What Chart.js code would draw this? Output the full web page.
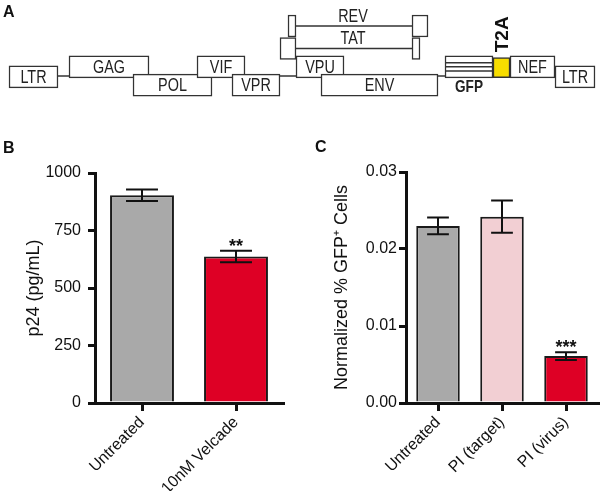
<!DOCTYPE html>
<html>
<head>
<meta charset="utf-8">
<script src="https://cdn.jsdelivr.net/npm/chart.js@4.4.0/dist/chart.umd.min.js"></script>
<style>
  body { margin: 0; background: #fff; }
  #fig { position: relative; width: 600px; height: 491px; overflow: hidden; font-family: 'Liberation Sans', Arial, sans-serif; }
  .panel { position: absolute; }
  .tag { position: absolute; font-weight: bold; font-size: 16px; line-height: 16px; color: #111; }
</style>
</head>
<body>
<div id="fig">
  <div class="panel" style="left:0;top:0;width:600px;height:112px"><canvas id="genome"></canvas></div>
  <div class="panel" style="left:0;top:140px;width:295px;height:351px"><canvas id="p24"></canvas></div>
  <div class="panel" style="left:300px;top:140px;width:300px;height:351px"><canvas id="gfp"></canvas></div>
  <div class="tag" style="left:3px;top:4px">A</div>
  <div class="tag" style="left:3px;top:140px">B</div>
  <div class="tag" style="left:315px;top:139px">C</div>
</div>
<script>
// ---- panel A: provirus map (schematic units along the genome, row levels) ----
const geneNames = ['LTR', 'GAG', 'POL', 'VIF', 'VPR', 'VPU', 'ENV', 'NEF', 'LTR'];
const geneStart = [9, 69, 133, 197, 232, 296, 321, 510, 555];
const geneEnd   = [58, 149, 212, 245, 280, 344, 438, 555, 595];
const geneRow   = [81, 69, 91, 69, 91, 69, 91, 69, 81];

const exonNames = ['TAT', 'TAT', 'REV', 'REV'];
const exonStart = [280, 412, 288, 412];
const exonEnd   = [296, 420, 296, 428];
const exonRow   = [47, 47, 20, 20];

const gfpStart = 445, gfpEnd = 493, gfpRow = 69;
const t2aStart = 493, t2aEnd = 510, t2aRow = 70;
const gfpStripes = [64, 69, 74];

const backbone = [[58, 80], [555, 80]];
const spliceLinks = [[[296, 47], [412, 47]], [[296, 20], [412, 20]]];

// ---- panel B ----
const p24Labels = ['Untreated', '10nM Velcade'];
const p24Values = [903, 637];
const p24Errors = [25, 25];
const p24Stars  = ['', '**'];
const p24Ticks  = [0, 250, 500, 750, 1000];

// ---- panel C ----
const gfpLabels = ['Untreated', 'PI (target)', 'PI (virus)'];
const gfpValues = [0.0230, 0.0242, 0.0061];
const gfpErrors = [0.0011, 0.0021, 0.0005];
const gfpStars  = ['', '', '***'];

const GRAY = '#a9a9a9', RED = '#de0025', PINK = '#f2cfd3';
const FONT = "'Liberation Sans', Arial, sans-serif";

Chart.defaults.font.family = FONT;
Chart.defaults.color = '#111';

// labels for the map boxes, squeezed like the narrow font of the original
const mapLabels = {
  id: 'mapLabels',
  afterDatasetsDraw(chart) {
    const ctx = chart.ctx;
    const sx = chart.scales.x, sy = chart.scales.y;
    function narrow(text, x, y, font) {
      ctx.save();
      ctx.translate(x, y);
      ctx.scale(0.8, 1);
      ctx.font = font;
      ctx.fillStyle = '#222';
      ctx.textAlign = 'center';
      ctx.textBaseline = 'middle';
      ctx.fillText(text, 0, 0);
      ctx.restore();
    }
    chart.data.datasets.forEach((ds, di) => {
      if (!ds.boxLabels) return;
      chart.getDatasetMeta(di).data.forEach((el, i) => {
        narrow(ds.boxLabels[i], (el.x + el.base) / 2, el.y + 1, '18px ' + FONT);
      });
    });
    narrow('REV', sx.getPixelForValue(353), sy.getPixelForValue(9), '18px ' + FONT);
    narrow('TAT', sx.getPixelForValue(353), sy.getPixelForValue(36), '18px ' + FONT);
    narrow('GFP', sx.getPixelForValue(469), sy.getPixelForValue(94), 'bold 17px ' + FONT);
    ctx.save();
    ctx.translate(sx.getPixelForValue(503), sy.getPixelForValue(30));
    ctx.rotate(-Math.PI / 2);
    ctx.font = 'bold 19px ' + FONT;
    ctx.fillStyle = '#111';
    ctx.textAlign = 'center';
    ctx.textBaseline = 'middle';
    ctx.fillText('T2A', 0, 0);
    ctx.restore();
  }
};

function segment(points, order) {
  return {
    type: 'line',
    data: points.map(p => ({ x: p[0], y: p[1] })),
    borderColor: '#333',
    borderWidth: 1.5,
    pointRadius: 0,
    order: order
  };
}

function boxes(starts, ends, rows, fill, thickness, order, names) {
  return {
    type: 'bar',
    indexAxis: 'y',
    data: starts.map((s, i) => ({ x: [s, ends[i]], y: rows[i] })),
    backgroundColor: fill,
    borderColor: '#333',
    borderWidth: 1.5,
    borderSkipped: false,
    barThickness: thickness,
    grouped: false,
    order: order,
    boxLabels: names
  };
}

const mapSets = [
  segment(backbone, 5),
  segment(spliceLinks[0], 5),
  segment(spliceLinks[1], 5),
  boxes(geneStart, geneEnd, geneRow, '#fff', 22, 3, geneNames),
  boxes(exonStart, exonEnd, exonRow, '#fff', 22, 3, null),
  boxes([gfpStart], [gfpEnd], [gfpRow], '#fff', 22, 3, null),
  boxes([t2aStart], [t2aEnd], [t2aRow], '#f8de00', 20, 3, null)
];
gfpStripes.forEach(y => mapSets.push(segment([[gfpStart, y], [gfpEnd, y]], 1)));

new Chart(document.getElementById('genome'), {
  data: { datasets: mapSets },
  options: {
    responsive: true,
    maintainAspectRatio: false,
    devicePixelRatio: 1,
    animation: false,
    layout: { padding: 0 },
    plugins: { legend: { display: false }, tooltip: { enabled: false } },
    scales: {
      x: { type: 'linear', min: 0, max: 600, display: false },
      y: { type: 'linear', min: 0, max: 112, reverse: true, display: false }
    }
  },
  plugins: [mapLabels]
});

// error bars and significance stars for the bar panels
const errorBars = {
  id: 'errorBars',
  afterDatasetsDraw(chart) {
    const ctx = chart.ctx, y = chart.scales.y;
    chart.data.datasets.forEach((ds, di) => {
      chart.getDatasetMeta(di).data.forEach((bar, i) => {
        const v = ds.data[i], e = ds.errors[i];
        const top = y.getPixelForValue(v + e), bot = y.getPixelForValue(v - e);
        const half = bar.width / 4;
        ctx.save();
        ctx.strokeStyle = '#111';
        ctx.lineWidth = 2;
        ctx.beginPath();
        ctx.moveTo(bar.x, top); ctx.lineTo(bar.x, bot);
        ctx.moveTo(bar.x - half, top); ctx.lineTo(bar.x + half, top);
        ctx.moveTo(bar.x - half, bot); ctx.lineTo(bar.x + half, bot);
        ctx.stroke();
        if (ds.stars[i]) {
          ctx.fillStyle = '#111';
          ctx.font = 'bold 18px ' + FONT;
          ctx.textAlign = 'center';
          ctx.textBaseline = 'alphabetic';
          ctx.fillText(ds.stars[i], bar.x, top + 1);
        }
        ctx.restore();
      });
    });
  }
};

function barPanel(id, labels, values, errors, stars, colors, yOpts, pad, yWidth) {
  return new Chart(document.getElementById(id), {
    type: 'bar',
    data: {
      labels: labels,
      datasets: [{
        data: values,
        errors: errors,
        stars: stars,
        backgroundColor: colors,
        borderColor: '#1a1a1a',
        borderWidth: 2,
        barPercentage: 0.68,
        categoryPercentage: 1
      }]
    },
    options: {
      responsive: true,
      maintainAspectRatio: false,
      devicePixelRatio: 1,
      animation: false,
      layout: { padding: pad },
      plugins: { legend: { display: false }, tooltip: { enabled: false } },
      scales: {
        x: {
          grid: { display: true, drawOnChartArea: false, offset: false, tickLength: 8, lineWidth: 3, color: '#111' },
          border: { display: true, width: 3, color: '#111' },
          ticks: { minRotation: 45, maxRotation: 45, padding: 2, font: { size: 16 }, color: '#111' },
          afterFit: s => { s.height = 88; }
        },
        y: Object.assign({
          grid: { drawOnChartArea: false, tickLength: 7, lineWidth: 3, color: '#111' },
          border: { display: true, width: 3, color: '#111' },
          afterFit: s => { s.width = yWidth; }
        }, yOpts)
      }
    },
    plugins: [errorBars]
  });
}

barPanel('p24', p24Labels, p24Values, p24Errors, p24Stars, [GRAY, RED], {
  min: 0, max: 1000,
  afterBuildTicks: s => { s.ticks = p24Ticks.map(v => ({ value: v })); },
  ticks: { font: { size: 16 }, color: '#111', padding: 7, callback: v => String(v) },
  title: { display: true, text: 'p24 (pg/mL)', font: { size: 18 }, color: '#111' }
}, { left: 19, top: 33, right: 12, bottom: 0 }, 76);

barPanel('gfp', gfpLabels, gfpValues, gfpErrors, gfpStars, [GRAY, PINK, RED], {
  min: 0, max: 0.03,
  ticks: { stepSize: 0.01, font: { size: 16 }, color: '#111', padding: 2, callback: v => v.toFixed(2) },
  title: { display: true, text: 'Normalized % GFP\u207A Cells', font: { size: 18 }, color: '#111' }
}, { left: 27, top: 32, right: 2, bottom: 0 }, 79);
</script>
</body>
</html>
